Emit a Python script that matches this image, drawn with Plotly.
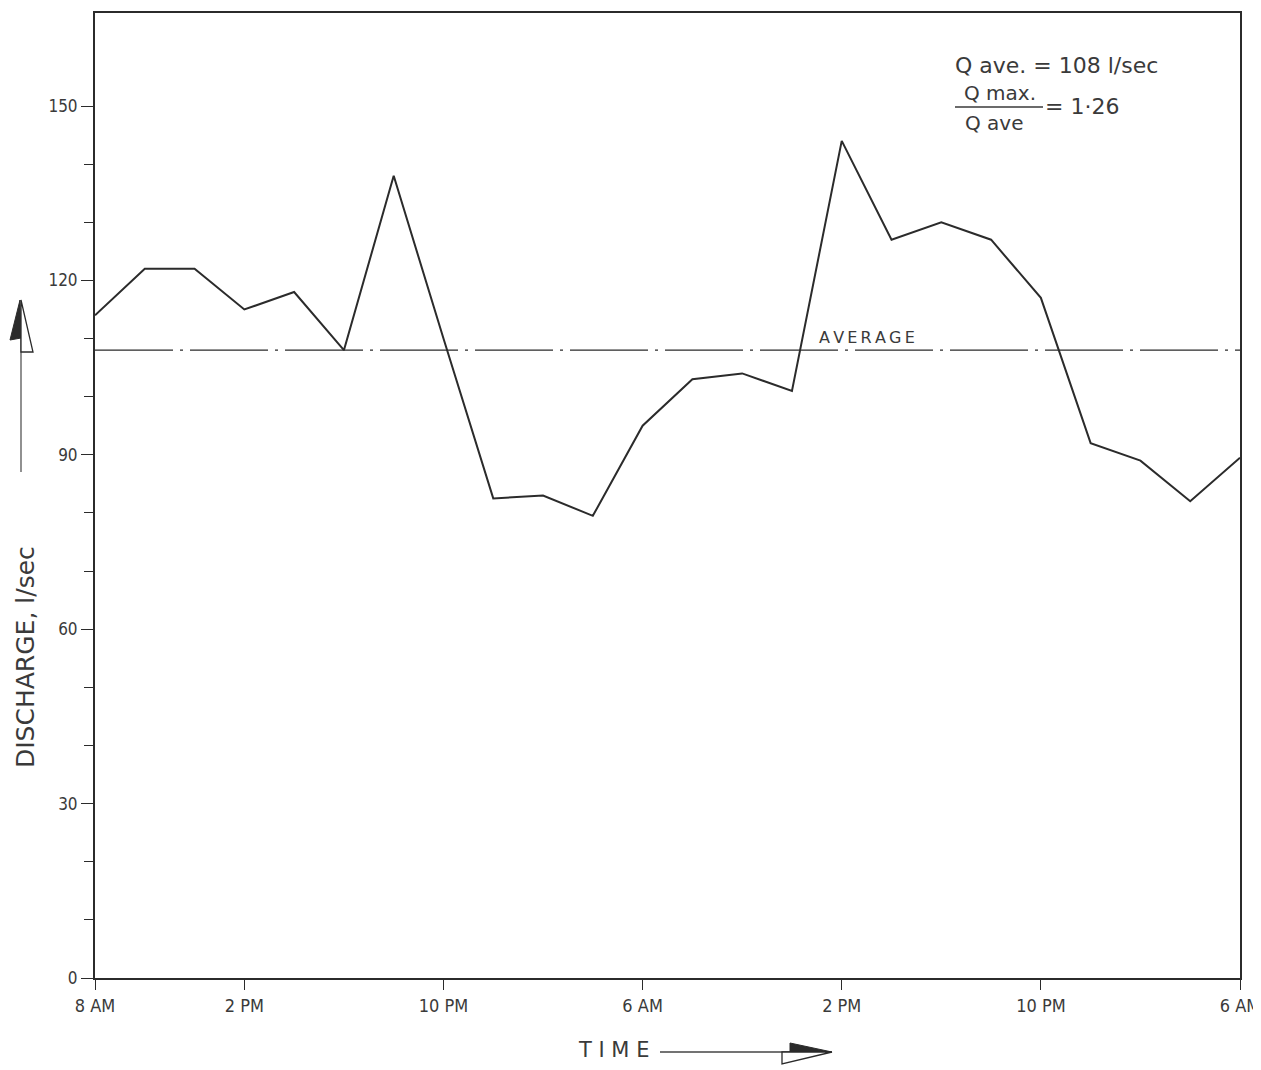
import plotly.graph_objects as go

# ---- data ----
hours = [0, 2, 4, 6, 8, 10, 12, 14, 16, 18, 20, 22, 24, 26, 28, 30, 32, 34, 36, 38, 40, 42, 44, 46]
discharge = [114, 122, 122, 115, 118, 108, 138, 110, 82.5, 83, 79.5, 95, 103, 104, 101, 144,
             127, 130, 127, 117, 92, 89, 82, 89.5]
q_ave = 108
tick_hours = [0, 6, 14, 22, 30, 38, 46]
tick_labels = ["8 AM", "2 PM", "10 PM", "6 AM", "2 PM", "10 PM", "6 AM"]
y_ticks = [0, 30, 60, 90, 120, 150]
y_minor = [10, 20, 40, 50, 70, 80, 100, 110, 130, 140]

OFF = 8  # page body margin
W_FIG, H_FIG = 1261 - OFF, 1070 - OFF
L, R, T, B = 95 - OFF, 21, 13 - OFF, 92
PW, PH = W_FIG - L - R, H_FIG - T - B


def px(x):  # page pixel -> paper
    return (x - OFF - L) / PW


def py(y):
    return (H_FIG - B - (y - OFF)) / PH


INK = "#2b2b2b"
TXT = "#3a3a3a"
FONT = "DejaVu Sans, Noto Sans, sans-serif"
NARROW = "Liberation Sans Narrow, DejaVu Sans Condensed, Roboto Condensed, DejaVu Sans, sans-serif"

fig = go.Figure()
fig.add_trace(go.Scatter(x=[hours[0], hours[-1]], y=[q_ave, q_ave], mode="lines",
                         line=dict(color=INK, width=1.4, dash="78px,7px,3px,7px"),
                         hoverinfo="skip", showlegend=False))
fig.add_trace(go.Scatter(x=hours, y=discharge, mode="lines",
                         line=dict(color=INK, width=2), showlegend=False))

fig.update_xaxes(range=[0, 46], tickvals=tick_hours, ticktext=tick_labels, automargin=False,
                 showgrid=False, zeroline=False, showline=True, linecolor=INK, linewidth=2,
                 mirror=True, ticks="outside", ticklen=10, tickcolor=INK, tickwidth=1.3,
                 tickfont=dict(family=NARROW, size=18, color=TXT))
fig.update_yaxes(range=[0, 166], tickvals=y_ticks, automargin=False,
                 showgrid=False, zeroline=False, showline=True, linecolor=INK, linewidth=2,
                 mirror=True, ticks="outside", ticklen=12, tickcolor=INK, tickwidth=1.3,
                 tickfont=dict(family=NARROW, size=17, color=TXT),
                 minor=dict(tickvals=y_minor, ticks="outside", ticklen=9, tickcolor=INK, tickwidth=1.2))

ann = []
ann.append(dict(x=31, y=q_ave, xref="x", yref="y", text="\u2009".join("AVERAGE"), showarrow=False,
                yanchor="bottom", yshift=1, font=dict(family=FONT, size=16, color=TXT)))
ann.append(dict(x=px(953), y=py(66), xref="paper", yref="paper", xanchor="left", yanchor="middle",
                text="Q ave. = 108 l/sec", showarrow=False, font=dict(family=FONT, size=22, color=TXT)))
ann.append(dict(x=px(1000), y=py(93), xref="paper", yref="paper", xanchor="center", yanchor="middle",
                text="Q max.", showarrow=False, font=dict(family=FONT, size=20, color=TXT)))
ann.append(dict(x=px(995), y=py(123), xref="paper", yref="paper", xanchor="center", yanchor="middle",
                text="Q ave", showarrow=False, font=dict(family=FONT, size=20, color=TXT)))
ann.append(dict(x=px(1043), y=py(106), xref="paper", yref="paper", xanchor="left", yanchor="middle",
                text="= 1·26", showarrow=False, font=dict(family=FONT, size=22, color=TXT)))
ann.append(dict(x=px(25), y=py(657), xref="paper", yref="paper", xanchor="center", yanchor="middle",
                text="DISCHARGE, l/sec", textangle=-90, showarrow=False,
                font=dict(family=FONT, size=25, color=TXT)))
ann.append(dict(x=px(613), y=py(1050), xref="paper", yref="paper", xanchor="center", yanchor="middle",
                text="T I M E", showarrow=False, font=dict(family=FONT, size=21, color=TXT)))
fig.update_layout(annotations=ann)

shapes = []
# fraction bar
shapes.append(dict(type="line", xref="paper", yref="paper", x0=px(955), x1=px(1043),
                   y0=py(107), y1=py(107), line=dict(color=TXT, width=1.5)))
# vertical arrow (y-axis)
shapes.append(dict(type="line", xref="paper", yref="paper", x0=px(21), x1=px(21),
                   y0=py(472), y1=py(335), line=dict(color="#555", width=1.3)))


def path(pts):
    return "M " + " L ".join(f"{px(a)},{py(b)}" for a, b in pts) + " Z"


shapes.append(dict(type="path", xref="paper", yref="paper",
                   path=path([(20, 300), (10, 340), (21, 338)]),
                   fillcolor=INK, line=dict(color=INK, width=1)))
shapes.append(dict(type="path", xref="paper", yref="paper",
                   path=path([(21, 300), (33, 352), (21, 352)]),
                   fillcolor="white", line=dict(color=INK, width=1.3)))
# horizontal arrow (time)
shapes.append(dict(type="line", xref="paper", yref="paper", x0=px(660), x1=px(790),
                   y0=py(1052), y1=py(1052), line=dict(color="#444", width=1.5)))
shapes.append(dict(type="path", xref="paper", yref="paper",
                   path=path([(790, 1043), (832, 1052), (790, 1052)]),
                   fillcolor=INK, line=dict(color=INK, width=1)))
shapes.append(dict(type="path", xref="paper", yref="paper",
                   path=path([(782, 1052), (832, 1052), (782, 1064)]),
                   fillcolor="white", line=dict(color=INK, width=1.3)))
fig.update_layout(shapes=shapes)

fig.update_layout(width=W_FIG, height=H_FIG, margin=dict(l=L, r=R, t=T, b=B),
                  paper_bgcolor="white", plot_bgcolor="white", showlegend=False)

fig.write_html("out.html")
